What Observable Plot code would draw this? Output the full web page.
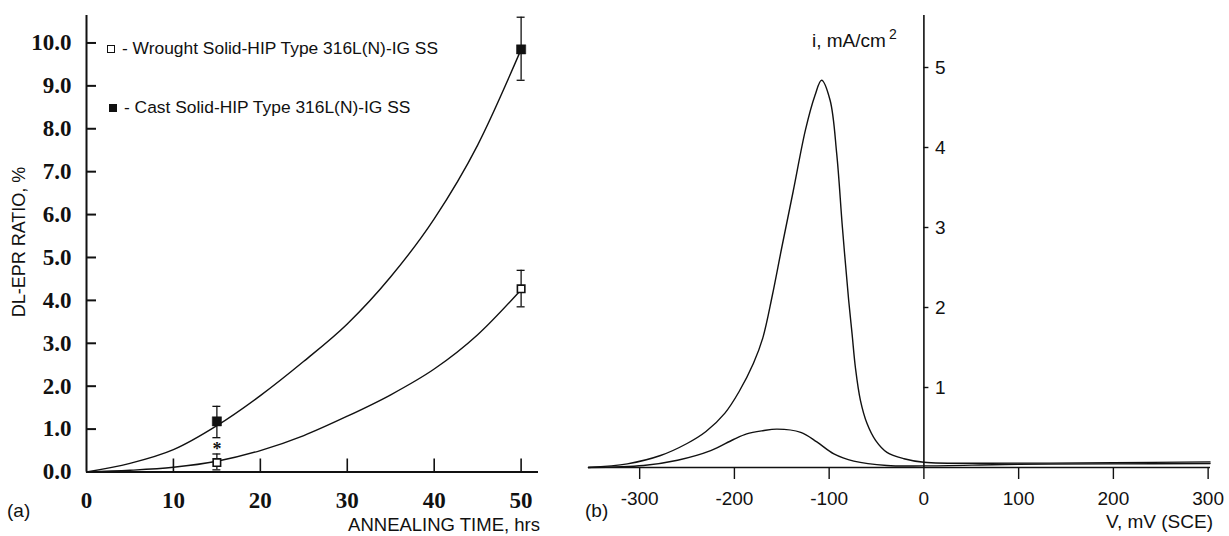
<!DOCTYPE html>
<html><head><meta charset="utf-8">
<script src="https://cdn.jsdelivr.net/npm/d3@7"></script>
<script src="https://cdn.jsdelivr.net/npm/@observablehq/plot@0.6"></script>
<style>
body{margin:0;background:#fff;}
#wrap{position:relative;width:1229px;height:536px;overflow:hidden;font-family:"Liberation Sans",Arial,sans-serif;color:#111;}
#wrap svg{position:absolute;left:0;top:0;}
.lbl{position:absolute;font-size:18px;white-space:nowrap;line-height:1;color:#111;}
.sq{position:absolute;box-sizing:border-box;border:1.6px solid #111;}
</style></head><body>
<div id="wrap"></div>
<script>
// ---------- Panel (a): DL-EPR ratio vs annealing time ----------
const timeHrs = [15, 50];
const wroughtRatio = [0.22, 4.27];
const wroughtLo = [0.05, 3.85];
const wroughtHi = [0.42, 4.70];
const castRatio = [1.18, 9.85];
const castLo = [0.80, 9.13];
const castHi = [1.53, 10.60];
const asteriskT = [15];
const asteriskV = [0.64];

const castCurveT = [0, 5, 10, 15, 20, 25, 30, 35, 40, 45, 50];
const castCurveV = [0, 0.2, 0.52, 1.08, 1.78, 2.58, 3.45, 4.55, 5.9, 7.62, 9.85];
const wroughtCurveT = [0, 5, 10, 15, 20, 25, 30, 35, 40, 45, 50];
const wroughtCurveV = [0, 0.04, 0.11, 0.25, 0.5, 0.85, 1.3, 1.8, 2.4, 3.2, 4.25];

const yTicksA = [0, 1, 2, 3, 4, 5, 6, 7, 8, 9, 10];
const xTicksA = [0, 10, 20, 30, 40, 50];

// ---------- Panel (b): current density vs potential ----------
const bigV = [-354, -313, -278, -250, -230, -210, -195, -180, -170, -160, -150, -138, -125, -115, -108, -99, -92, -86, -79.4, -75.8, -72.3, -67, -60, -51, -39, -21, 0, 100, 200, 302];
const bigI = [0, 0.046, 0.15, 0.30, 0.45, 0.68, 0.95, 1.30, 1.62, 2.15, 2.75, 3.45, 4.22, 4.65, 4.84, 4.59, 3.92, 3.0, 2.09, 1.67, 1.25, 0.84, 0.55, 0.34, 0.19, 0.11, 0.066, 0.055, 0.06, 0.07];
const smallV = [-354, -296, -260, -225, -201, -187, -170, -155, -130, -113, -95, -74, -39, 0, 100, 200, 302];
const smallI = [0, 0.025, 0.09, 0.21, 0.35, 0.42, 0.46, 0.48, 0.44, 0.32, 0.17, 0.08, 0.025, 0.02, 0.04, 0.045, 0.05];

const yTicksB = [1, 2, 3, 4, 5];
const xTicksB = [-300, -200, -100, 0, 100, 200, 300];

const ink = "#111";
const serif = "Liberation Serif, Times New Roman, serif";
const sans = "Liberation Sans, Arial, sans-serif";

const zip2 = (a, b) => a.map((v, i) => ({x: v, y: b[i]}));
const pts = (t, v, lo, hi) => t.map((x, i) => ({x, y: v[i], lo: lo[i], hi: hi[i]}));

const castPts = pts(timeHrs, castRatio, castLo, castHi);
const wroughtPts = pts(timeHrs, wroughtRatio, wroughtLo, wroughtHi);

const plotA = Plot.plot({
  width: 1229, height: 536,
  marginLeft: 86, marginRight: 691, marginTop: 15, marginBottom: 64.5,
  style: {background: "transparent", overflow: "visible"},
  x: {domain: [0, 52], axis: null},
  y: {domain: [0, 10.64], axis: null},
  marks: [
    Plot.line(zip2(castCurveT, castCurveV), {x: "x", y: "y", curve: "monotone-x", stroke: ink, strokeWidth: 1.4}),
    Plot.line(zip2(wroughtCurveT, wroughtCurveV), {x: "x", y: "y", curve: "monotone-x", stroke: ink, strokeWidth: 1.4}),
    Plot.ruleX([0], {stroke: ink, strokeWidth: 2}),
    Plot.ruleY([0], {stroke: ink, strokeWidth: 2}),
    Plot.ruleY(yTicksA.slice(1), {y: d => d, x1: () => 0, x2: () => 0, insetRight: -10, stroke: ink, strokeWidth: 2}),
    Plot.ruleX(xTicksA.slice(1), {x: d => d, y1: () => 0, y2: () => 0, insetTop: -13, stroke: ink, strokeWidth: 1.6}),
    Plot.text(yTicksA, {x: () => 0, y: d => d, text: d => d.toFixed(1), dx: -15, textAnchor: "end", fontFamily: serif, fontWeight: "bold", fontSize: 23, fill: ink}),
    Plot.text(xTicksA, {x: d => d, y: () => 0, text: d => String(d), dy: 29, fontFamily: serif, fontWeight: "bold", fontSize: 23, fill: ink}),
    // error bars
    Plot.ruleX([...castPts, ...wroughtPts], {x: "x", y1: "lo", y2: "hi", stroke: ink, strokeWidth: 1.3}),
    Plot.ruleY([...castPts, ...wroughtPts], {y: "lo", x1: "x", x2: "x", insetLeft: -4, insetRight: -4, stroke: ink, strokeWidth: 1.3}),
    Plot.ruleY([...castPts, ...wroughtPts], {y: "hi", x1: "x", x2: "x", insetLeft: -4, insetRight: -4, stroke: ink, strokeWidth: 1.3}),
    Plot.dot(castPts, {x: "x", y: "y", symbol: "square", r: 5.2, fill: ink, stroke: ink, strokeWidth: 0.5}),
    Plot.dot(wroughtPts, {x: "x", y: "y", symbol: "square", r: 4.2, fill: "white", stroke: ink, strokeWidth: 1.6}),
    Plot.text(zip2(asteriskT, asteriskV), {x: "x", y: "y", text: () => "*", dy: 5, fontFamily: serif, fontWeight: "bold", fontSize: 18, fill: ink})
  ]
});

const plotB = Plot.plot({
  width: 1229, height: 536,
  marginLeft: 588, marginRight: 19, marginTop: 15, marginBottom: 69,
  style: {background: "transparent", overflow: "visible"},
  x: {domain: [-354, 302.5], axis: null},
  y: {domain: [0, 5.65], axis: null},
  marks: [
    Plot.line(zip2(bigV, bigI), {x: "x", y: "y", curve: "catmull-rom", stroke: ink, strokeWidth: 1.4}),
    Plot.line(zip2(smallV, smallI), {x: "x", y: "y", curve: "catmull-rom", stroke: ink, strokeWidth: 1.4}),
    Plot.ruleX([0], {stroke: ink, strokeWidth: 1.6}),
    Plot.ruleY([0], {stroke: ink, strokeWidth: 1.6}),
    Plot.ruleX(xTicksB, {x: d => d, y1: () => 0, y2: () => 0, insetBottom: -12, stroke: ink, strokeWidth: 1.4}),
    Plot.ruleY(yTicksB, {y: d => d, x1: () => 0, x2: () => 0, insetRight: -5, stroke: ink, strokeWidth: 1.4}),
    Plot.text(yTicksB, {x: () => 0, y: d => d, text: d => String(d), dx: 11, textAnchor: "start", fontFamily: sans, fontSize: 19, fill: ink}),
    Plot.text(xTicksB, {x: d => d, y: () => 0, text: d => String(d), dy: 31, fontFamily: sans, fontSize: 19, fill: ink})
  ]
});

const wrap = document.getElementById("wrap");
wrap.appendChild(plotA);
wrap.appendChild(plotB);

function addLabel(html, style) {
  const d = document.createElement("div");
  d.className = "lbl";
  d.innerHTML = html;
  Object.assign(d.style, style);
  wrap.appendChild(d);
  return d;
}
// legend (a)
const sq1 = document.createElement("div"); sq1.className = "sq";
Object.assign(sq1.style, {left: "107px", top: "45px", width: "8px", height: "8px", background: "#fff"});
wrap.appendChild(sq1);
const sq2 = document.createElement("div"); sq2.className = "sq";
Object.assign(sq2.style, {left: "109px", top: "104px", width: "8px", height: "8px", background: "#111"});
wrap.appendChild(sq2);
addLabel("- Wrought Solid-HIP Type 316L(N)-IG SS", {left: "122px", top: "40px", fontSize: "17.4px"});
addLabel("- Cast Solid-HIP Type 316L(N)-IG SS", {left: "124px", top: "99px", fontSize: "17.4px"});
// axis titles (a)
addLabel("DL-EPR RATIO, %", {left: "19px", top: "242px", transform: "translate(-50%,-50%) rotate(-90deg)", fontSize: "18px"});
addLabel("ANNEALING TIME, hrs", {right: "689px", top: "516px", fontSize: "18.5px"});
addLabel("(a)", {left: "7px", top: "501px", fontSize: "19px"});
// panel (b) titles
addLabel("(b)", {left: "585px", top: "501px", fontSize: "19px"});
addLabel("V, mV (SCE)", {right: "16px", top: "512px", fontSize: "19px"});
addLabel('i, mA/cm<span style="font-size:14px;position:relative;top:-8px;margin-left:3px">2</span>', {left: "812px", top: "31px", fontSize: "19px"});
</script>
</body></html>
